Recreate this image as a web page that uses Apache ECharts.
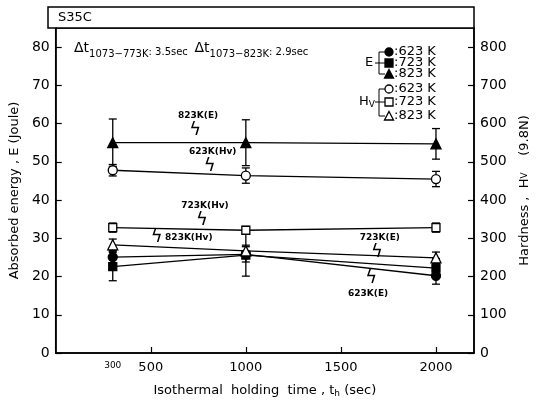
<!DOCTYPE html>
<html>
<head>
<meta charset="utf-8">
<script src="https://cdn.jsdelivr.net/npm/echarts@6/dist/echarts.min.js"></script>
<style>
  html, body { margin: 0; padding: 0; background: #fff; }
  #chart { width: 541px; height: 403px; }
</style>
</head>
<body>
<div id="chart"></div>
<script>
// holding times (sec)
const times = [300, 1000, 2000];

// absorbed energy E (Joule), left axis
const e623 = [25.1, 25.8, 20.2];
const e723 = [22.6, 25.6, 22.2];
const e823 = [55, 55, 54.7];
const e623Err = [1.5, 2, 2.2];
const e723Err = [3.7, 5.5, 2.5];
const e823Err = [6.2, 6, 4];

// hardness Hv, right axis
const hv623 = [478, 464, 455];
const hv723 = [328, 321, 328];
const hv823 = [283, 267, 249];
const hv623Err = [15, 20, 20];
const hv723Err = [12, 10, 12];
const hv823Err = [15, 15, 15];

const xTickValues = [500, 1000, 1500, 2000];
const xLabelValues = [300, 500, 1000, 1500, 2000];

// curve labels: [time, E value, text, lightning side]
const notes = [
  [749, 62.1, "823K(E)", "below"],
  [826, 52.7, "623K(Hv)", "below"],
  [785, 38.6, "723K(Hv)", "below"],
  [700, 30.2, "823K(Hv)", "left"],
  [1705, 30.2, "723K(E)", "below"],
  [1643, 15.4, "623K(E)", "above"]
];

const FONT = "DejaVu Sans";
const chart = echarts.init(document.getElementById("chart"));

function pairs(ys) {
  return times.map((t, i) => [t, ys[i]]);
}

function errorSeries(ys, errs, axisIndex) {
  return {
    type: "custom",
    yAxisIndex: axisIndex,
    silent: true,
    z: 3,
    data: times.map((t, i) => [t, ys[i] - errs[i], ys[i] + errs[i]]),
    renderItem: (params, api) => {
      const lo = api.coord([api.value(0), api.value(1)]);
      const hi = api.coord([api.value(0), api.value(2)]);
      const w = 4;
      const st = { stroke: "#000", lineWidth: 1.3 };
      return {
        type: "group",
        children: [
          { type: "line", shape: { x1: lo[0], y1: lo[1], x2: hi[0], y2: hi[1] }, style: st },
          { type: "line", shape: { x1: lo[0] - w, y1: lo[1], x2: lo[0] + w, y2: lo[1] }, style: st },
          { type: "line", shape: { x1: hi[0] - w, y1: hi[1], x2: hi[0] + w, y2: hi[1] }, style: st }
        ]
      };
    }
  };
}

function curve(ys, axisIndex, symbol, filled, size) {
  return {
    type: "line",
    yAxisIndex: axisIndex,
    data: pairs(ys),
    symbol: symbol,
    symbolSize: size,
    showAllSymbol: true,
    z: 4,
    lineStyle: { color: "#000", width: 1.3 },
    itemStyle: { color: filled ? "#000" : "#fff", borderColor: "#000", borderWidth: 1.3 }
  };
}

const noteSeries = {
  type: "custom",
  silent: true,
  z: 5,
  data: notes,
  renderItem: (params, api) => {
    const n = notes[params.dataIndex];
    const p = api.coord([n[0], n[1]]);
    const txt = { type: "text", x: p[0], y: p[1],
      style: { text: n[2], font: "bold 9px " + FONT, fill: "#000", align: "center", verticalAlign: "middle" } };
    let bolt;
    if (n[3] === "below") {
      bolt = { x: p[0] - 3, y: p[1] + 15 };
    } else if (n[3] === "above") {
      bolt = { x: p[0] + 3, y: p[1] - 16 };
    } else {
      bolt = { x: p[0] - 32, y: p[1] };
    }
    return {
      type: "group",
      children: [
        txt,
        { type: "text", x: bolt.x, y: bolt.y,
          style: { text: "ϟ", font: "18px " + FONT, fill: "#000", align: "center", verticalAlign: "middle" } }
      ]
    };
  }
};

// legend block on the upper right
function legendGraphics() {
  const g = [];
  const rowsE = [[52, "circle"], [63, "rect"], [74, "triangle"]];
  const rowsH = [[89, "circle"], [102, "rect"], [116, "triangle"]];
  const sx = 389;
  function mark(y, shape, filled) {
    const style = { fill: filled ? "#000" : "#fff", stroke: "#000", lineWidth: 1.3 };
    if (shape === "circle") g.push({ type: "circle", shape: { cx: sx, cy: y, r: 4 }, style });
    if (shape === "rect") g.push({ type: "rect", shape: { x: sx - 4, y: y - 4, width: 8, height: 8 }, style });
    if (shape === "triangle") g.push({ type: "polygon", shape: { points: [[sx, y - 4.5], [sx + 4.5, y + 4], [sx - 4.5, y + 4]] }, style });
    g.push({ type: "text", x: sx + 5, y: y, style: { text: ":" + ["623", "723", "823"][["circle", "rect", "triangle"].indexOf(shape)] + " K", font: "13px " + FONT, fill: "#000", verticalAlign: "middle" } });
  }
  function bracket(rows, label, lx) {
    const y0 = rows[0][0], y1 = rows[2][0], ym = rows[1][0];
    const st = { stroke: "#000", lineWidth: 1 };
    g.push({ type: "polyline", shape: { points: [[sx - 4, y0], [379, y0], [379, y1], [sx - 4, y1]] }, style: st });
    g.push({ type: "line", shape: { x1: 375, y1: ym, x2: sx - 4, y2: ym }, style: st });
    g.push({ type: "text", x: lx, y: ym, style: { text: label, font: "13px " + FONT, fill: "#000", verticalAlign: "middle", rich: { s: { font: "9px " + FONT, verticalAlign: "bottom", padding: [6, 0, 0, 0] } } } });
  }
  bracket(rowsE, "E", 365);
  bracket(rowsH, "H{s|V}", 359);
  rowsE.forEach(r => mark(r[0], r[1], true));
  rowsH.forEach(r => mark(r[0], r[1], false));
  return g;
}

chart.setOption({
  animation: false,
  backgroundColor: "#fff",
  textStyle: { fontFamily: FONT, color: "#000" },
  grid: { left: 48, right: 67, top: 28, bottom: 42, show: true, borderColor: "#000", borderWidth: 1.5 },
  xAxis: {
    type: "value",
    min: 0,
    max: 2200,
    name: "Isothermal  holding  time , t{s|h} (sec)",
    nameLocation: "middle",
    nameGap: 30,
    nameTextStyle: { fontSize: 13, fontFamily: FONT, color: "#000", rich: { s: { fontSize: 9, fontFamily: FONT, padding: [6, 0, 0, 0] } } },
    axisLine: { lineStyle: { color: "#000", width: 1.5 } },
    axisTick: { inside: true, length: 6, lineStyle: { color: "#000", width: 1.2 }, customValues: xTickValues },
    axisLabel: {
      customValues: xLabelValues,
      color: "#000",
      fontSize: 13,
      fontFamily: FONT,
      margin: 8,
      formatter: v => (v === 300 ? "{s|300}" : String(v)),
      rich: { s: { fontSize: 9, fontFamily: FONT, verticalAlign: "bottom" } }
    },
    splitLine: { show: false }
  },
  yAxis: [
    {
      type: "value",
      min: 0,
      max: 85,
      interval: 10,
      name: "Absorbed energy , E (Joule)",
      nameLocation: "middle",
      nameRotate: 90,
      nameGap: 30,
      nameTextStyle: { fontSize: 13, fontFamily: FONT, color: "#000" },
      axisLine: { show: true, lineStyle: { color: "#000", width: 1.5 } },
      axisTick: { show: true, inside: true, length: 6, lineStyle: { color: "#000", width: 1.2 } },
      axisLabel: { color: "#000", fontSize: 14, fontFamily: FONT, margin: 6, showMaxLabel: false },
      splitLine: { show: false }
    },
    {
      type: "value",
      min: 0,
      max: 850,
      interval: 100,
      position: "right",
      name: "Hardness ,  H{s|V}    (9.8N)",
      nameLocation: "middle",
      nameRotate: 90,
      nameGap: 44,
      nameTextStyle: { fontSize: 13, fontFamily: FONT, color: "#000", rich: { s: { fontSize: 9, fontFamily: FONT } } },
      axisLine: { show: true, lineStyle: { color: "#000", width: 1.5 } },
      axisTick: { show: true, inside: true, length: 6, lineStyle: { color: "#000", width: 1.2 } },
      axisLabel: { color: "#000", fontSize: 14, fontFamily: FONT, margin: 6, showMaxLabel: false },
      splitLine: { show: false }
    }
  ],
  graphic: [
    { type: "rect", shape: { x: 48, y: 7, width: 426, height: 21 }, style: { fill: "#fff", stroke: "#000", lineWidth: 1.5 } },
    { type: "text", x: 58, y: 18, style: { text: "S35C", font: "13px " + FONT, fill: "#000", verticalAlign: "middle" } },
    {
      type: "text", x: 74, y: 50,
      style: {
        text: "{d|Δt}{s|1073−773K}{r|: 3.5sec}  {d|Δt}{s|1073−823K}{r|: 2.9sec}",
        verticalAlign: "middle",
        fill: "#000",
        rich: {
          d: { font: "14px " + FONT, verticalAlign: "bottom", padding: [0, 0, 4, 0] },
          s: { font: "10px " + FONT, verticalAlign: "bottom" },
          r: { font: "10px " + FONT, verticalAlign: "bottom", padding: [0, 0, 2, 0] }
        }
      }
    }
  ].concat(legendGraphics()),
  series: [
    curve(e823, 0, "triangle", true, 10),
    curve(e623, 0, "circle", true, 9),
    curve(e723, 0, "rect", true, 8),
    curve(hv623, 1, "circle", false, 9),
    curve(hv723, 1, "rect", false, 8),
    curve(hv823, 1, "triangle", false, 10),
    errorSeries(e823, e823Err, 0),
    errorSeries(e623, e623Err, 0),
    errorSeries(e723, e723Err, 0),
    errorSeries(hv623, hv623Err, 1),
    errorSeries(hv723, hv723Err, 1),
    errorSeries(hv823, hv823Err, 1),
    noteSeries
  ]
});
</script>
</body>
</html>
